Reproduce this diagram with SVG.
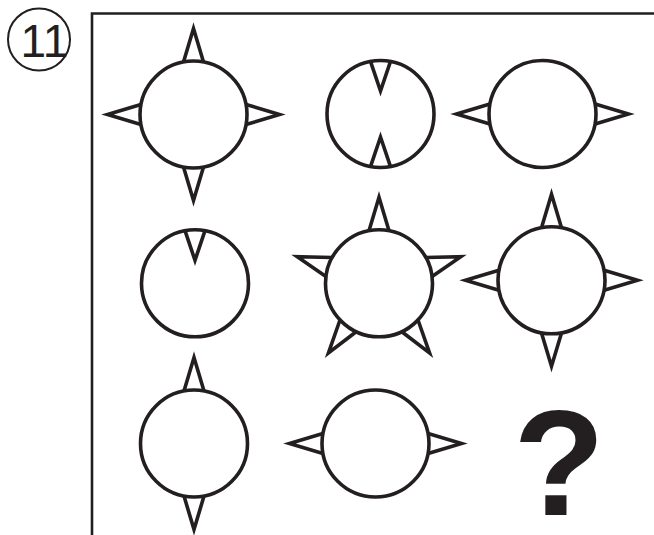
<svg xmlns="http://www.w3.org/2000/svg" xmlns:xlink="http://www.w3.org/1999/xlink" width="654" height="535" viewBox="0 0 654 535">
  <style>
    .ln { fill: none; stroke: #231f20; stroke-width: 3.6; stroke-linejoin: miter; stroke-miterlimit: 6; }
    .frame { fill: none; stroke: #231f20; stroke-width: 2.6; }
    .num { font-family: "Liberation Sans", Arial, sans-serif; font-size: 46px; fill: #231f20; }
    .q { font-family: "Liberation Sans", Arial, sans-serif; font-weight: bold; font-size: 150px; fill: #231f20; }
  </style>
  <defs>
    <path id="spike" class="ln" d="M -10 -52.6 L 0 -86 L 10 -52.6"/>
    <path id="notch" class="ln" d="M -10 -52.6 L 0 -23 L 10 -52.6"/>
    <circle id="ring" class="ln" cx="0" cy="0" r="53.5"/>
  </defs>
  <rect width="654" height="535" fill="#ffffff"/>

  <g id="label">
    <circle cx="39" cy="39.5" r="31" fill="none" stroke="#231f20" stroke-width="2"/>
    <text class="num" x="44.5" y="56.5" text-anchor="middle">11</text>
  </g>

  <g id="frame">
    <path class="frame" d="M 92 535 L 92 13.5 L 654 13.5"/>
  </g>

  <g id="r1c1" transform="translate(193.5,114.5)">
    <use xlink:href="#spike"/>
    <use xlink:href="#spike" transform="rotate(90)"/>
    <use xlink:href="#spike" transform="rotate(180)"/>
    <use xlink:href="#spike" transform="rotate(270)"/>
    <use xlink:href="#ring"/>
  </g>

  <g id="r1c2" transform="translate(380.5,114)">
    <use xlink:href="#notch"/>
    <use xlink:href="#notch" transform="rotate(180)"/>
    <use xlink:href="#ring"/>
  </g>

  <g id="r1c3" transform="translate(542.5,114)">
    <use xlink:href="#spike" transform="rotate(90)"/>
    <use xlink:href="#spike" transform="rotate(270)"/>
    <use xlink:href="#ring"/>
  </g>

  <g id="r2c1" transform="translate(195,283.3)">
    <use xlink:href="#notch"/>
    <use xlink:href="#ring"/>
  </g>

  <g id="r2c2" transform="translate(379,283.3)">
    <use xlink:href="#spike"/>
    <use xlink:href="#spike" transform="rotate(72)"/>
    <use xlink:href="#spike" transform="rotate(144)"/>
    <use xlink:href="#spike" transform="rotate(216)"/>
    <use xlink:href="#spike" transform="rotate(288)"/>
    <use xlink:href="#ring"/>
  </g>

  <g id="r2c3" transform="translate(551.5,280.3)">
    <use xlink:href="#spike"/>
    <use xlink:href="#spike" transform="rotate(90)"/>
    <use xlink:href="#spike" transform="rotate(180)"/>
    <use xlink:href="#spike" transform="rotate(270)"/>
    <use xlink:href="#ring"/>
  </g>

  <g id="r3c1" transform="translate(194,443.5)">
    <use xlink:href="#spike"/>
    <use xlink:href="#spike" transform="rotate(180)"/>
    <use xlink:href="#ring"/>
  </g>

  <g id="r3c2" transform="translate(375.5,443.5)">
    <use xlink:href="#spike" transform="rotate(90)"/>
    <use xlink:href="#spike" transform="rotate(270)"/>
    <use xlink:href="#ring"/>
  </g>

  <g id="r3c3">
    <text class="q" x="559" y="515" text-anchor="middle">?</text>
  </g>

  <g id="connectors"></g>
</svg>
